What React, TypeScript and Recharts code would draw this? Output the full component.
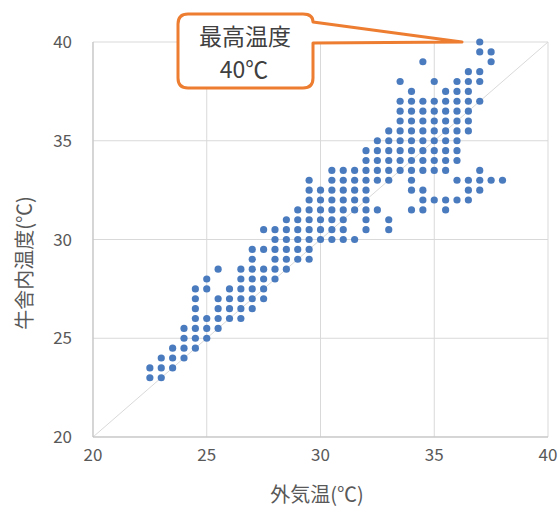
import React from 'react';
import {
  ScatterChart,
  Scatter,
  XAxis,
  YAxis,
  CartesianGrid,
  ReferenceLine,
  Customized
} from 'recharts';

// 牛舎内温度 rows (y) and the 外気温 values (x) observed at each row
const rowY = [
  23, 23.5, 24, 24.5, 25, 25.5, 26, 26.5, 27, 27.5, 28, 28.5, 29, 29.5,
  30, 30.5, 31, 31.5, 32, 32.5, 33, 33.5, 34, 34.5, 35, 35.5, 36, 36.5,
  37, 37.5, 38, 38.5, 39, 39.5, 40
];

const rowX = [
  [22.5, 23],
  [22.5, 23, 23.5],
  [23, 23.5, 24],
  [23.5, 24, 24.5],
  [24, 24.5, 25],
  [24, 24.5, 25, 25.5],
  [24.5, 25, 25.5, 26, 26.5],
  [24.5, 25.5, 26, 26.5, 27],
  [24.5, 25.5, 26, 26.5, 27, 27.5],
  [24.5, 25, 26, 26.5, 27, 27.5],
  [25, 26.5, 27, 27.5, 28],
  [25.5, 26.5, 27, 27.5, 28, 28.5],
  [27, 28, 28.5, 29, 29.5],
  [27, 27.5, 28, 28.5, 29, 29.5],
  [28, 28.5, 29, 29.5, 30, 30.5, 31, 31.5],
  [27.5, 28, 28.5, 29, 29.5, 30, 30.5, 31, 32, 33],
  [28.5, 29, 29.5, 30, 30.5, 31, 32, 33],
  [29, 29.5, 30, 30.5, 31, 31.5, 32, 32.5, 34, 34.5, 35.5],
  [29.5, 30, 30.5, 31, 31.5, 32, 34.5, 35, 35.5, 36, 36.5],
  [29.5, 30, 30.5, 31, 31.5, 32, 34, 34.5, 36.5, 37],
  [29.5, 30.5, 31, 31.5, 32, 32.5, 33, 34, 36, 36.5, 37, 37.5, 38],
  [30.5, 31, 31.5, 32, 32.5, 33, 33.5, 34, 34.5, 35, 35.5, 37],
  [32, 32.5, 33, 33.5, 34, 34.5, 35, 35.5, 36],
  [32, 32.5, 33, 33.5, 34, 34.5, 35, 35.5, 36],
  [32.5, 33, 33.5, 34, 34.5, 35, 35.5, 36],
  [33, 33.5, 34, 34.5, 35, 35.5, 36, 36.5],
  [33.5, 34, 34.5, 35, 35.5, 36, 36.5],
  [33.5, 34, 34.5, 35, 35.5, 36, 36.5],
  [33.5, 34, 34.5, 35, 35.5, 36, 36.5, 37],
  [34, 35.5, 36, 36.5],
  [33.5, 35, 36, 36.5, 37],
  [36.5, 37],
  [34.5, 37.5],
  [37, 37.5],
  [37]
];

const ticks = [20, 25, 30, 35, 40];

const points = rowY.flatMap((y, i) => rowX[i].map(x => ({ x, y })));

const textColor = '#595959';

function Dot(props: any) {
  return <circle cx={props.cx} cy={props.cy} r={3.6} fill="#4A7BBF" />;
}

function Annotations() {
  return (
    <g>
      <text
        x={23}
        y={263}
        transform="rotate(-90 23 263)"
        textAnchor="middle"
        dominantBaseline="central"
        fontSize={20}
        fill={textColor}
      >
        牛舎内温度(℃)
      </text>
      <text x={317} y={493} textAnchor="middle" dominantBaseline="central" fontSize={20} fill={textColor}>
        外気温(℃)
      </text>
      <path
        d="M188,14 H303 Q313,14 313,22 L462,42 L313,43 V78 Q313,88 303,88 H188 Q178,88 178,78 V24 Q178,14 188,14 Z"
        fill="#fff"
        stroke="#ED7D31"
        strokeWidth={3}
        strokeLinejoin="round"
      />
      <text x={245} y={45} textAnchor="middle" fontSize={23} fill="#404040">
        最高温度
      </text>
      <text x={244} y={78} textAnchor="middle" fontSize={23} fill="#404040">
        40℃
      </text>
    </g>
  );
}

export default function App() {
  return (
    <div
      style={{
        position: 'absolute',
        left: 0,
        top: 0,
        width: 558,
        height: 509,
        background: '#fff',
        fontFamily: '"Noto Sans CJK JP", "Noto Sans", sans-serif'
      }}
    >
      <ScatterChart width={558} height={509} margin={{ top: 42, right: 10, bottom: 0, left: 0 }}>
        <CartesianGrid stroke="#D9D9D9" />
        <XAxis
          type="number"
          dataKey="x"
          domain={[20, 40]}
          ticks={ticks}
          height={72}
          stroke="#BFBFBF"
          tickLine={false}
          tickSize={0}
          tickMargin={12}
          tick={{ fill: textColor, fontSize: 17 }}
        />
        <YAxis
          type="number"
          dataKey="y"
          domain={[20, 40]}
          ticks={ticks}
          width={93}
          stroke="#BFBFBF"
          tickLine={false}
          tickSize={0}
          tickMargin={21}
          tick={{ fill: textColor, fontSize: 17 }}
        />
        <ReferenceLine
          segment={[{ x: 20, y: 20 }, { x: 40, y: 40 }]}
          stroke="#D9D9D9"
          strokeWidth={1}
        />
        <Scatter data={points} shape={<Dot />} isAnimationActive={false} />
        <Customized component={Annotations} />
      </ScatterChart>
    </div>
  );
}
